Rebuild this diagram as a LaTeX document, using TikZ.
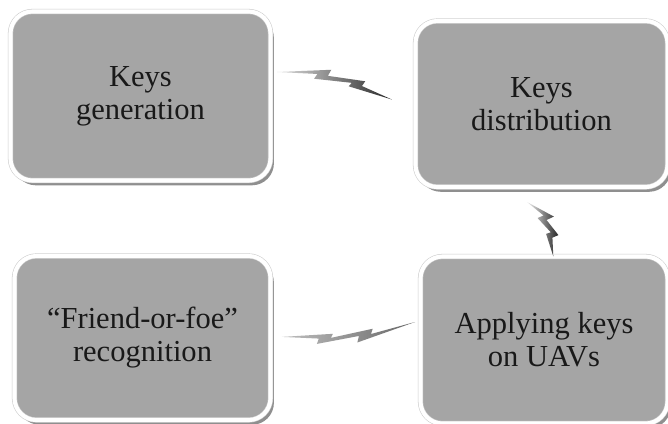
\documentclass[tikz,border=0pt]{standalone}
\usepackage{fontspec}
\setmainfont{Liberation Serif}
\usetikzlibrary{shadows}
\definecolor{boxgray}{RGB}{165,165,165}
\definecolor{rimgray}{RGB}{205,205,205}
\tikzset{
  stagebox/.style={rectangle, rounded corners=0.55cm, inner sep=0pt,
    fill=boxgray, draw=rimgray, line width=0.4pt, double=white, double distance=2.9pt,
    drop shadow={shadow xshift=2.4pt, shadow yshift=-3.4pt, fill=black!55, opacity=0.8},
    align=center, font=\fontsize{21.7pt}{23.5pt}\selectfont, text=black!90},
  boltshape/.style={draw=none}
}
\newcommand{\boltpath}{(0,0) -- (0.45,0.9) -- (0.43,0.4) -- (0.75,0.5) -- (0.73,0.1) -- (1,-0.5) -- (0.62,-0.1) -- (0.64,0.2) -- (0.32,0.0) -- (0.34,0.4) -- cycle}
\begin{document}
\begin{tikzpicture}[x=0.025cm, y=-0.025cm]
\useasboundingbox (0,0) rectangle (668,423);
\fill[white] (0,0) rectangle (668,423);
\node[stagebox, minimum width=6.5cm, minimum height=4.225cm] (gen) at (140.5,96) {Keys\\generation};
\node[stagebox, minimum width=6.3cm, minimum height=4.15cm] (dist) at (541.5,104) {Keys\\distribution};
\node[stagebox, minimum width=6.4cm, minimum height=4.1cm] (fof) at (142.5,338) {``Friend-or-foe''\\recognition};
\node[stagebox, minimum width=6.175cm, minimum height=4.175cm] (apply) at (544,340) {Applying keys\\on UAVs};
% bolt anchor coordinates between the boxes
\coordinate (b1s) at (277,72);
\coordinate (b2s) at (527,202);
\coordinate (b3s) at (415,322);
% bolt gen -> dist
\begin{scope}[shift={(b1s)}, rotate=-10.26, x=2.9475cm, y=0.33cm]
  \shade[boltshape, left color=gray!25, right color=black!85] \boltpath;
\end{scope}
% bolt dist -> apply
\begin{scope}[shift={(b2s)}, rotate=-56.6, x=1.4975cm, y=0.4cm]
  \shade[boltshape, left color=gray!15, right color=black!85] \boltpath;
\end{scope}
% bolt apply -> fof
\begin{scope}[shift={(b3s)}, rotate=189.04, x=3.3425cm, y=0.31cm]
  \shade[boltshape, left color=gray!50, right color=black!60] \boltpath;
\end{scope}
\end{tikzpicture}
\end{document}
